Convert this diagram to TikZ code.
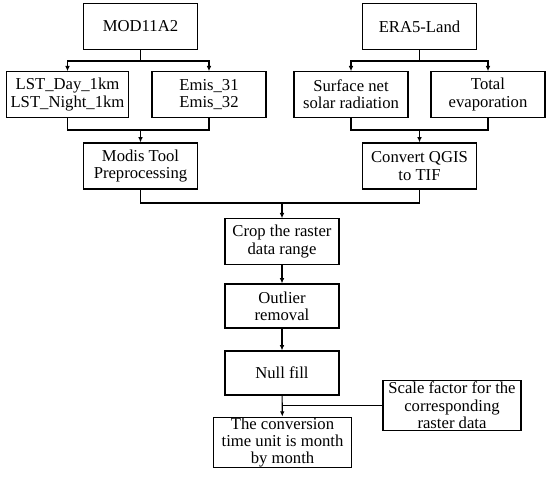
\documentclass[tikz,border=0pt]{standalone}
\usepackage{fontspec}
\setmainfont{Liberation Serif}
\usetikzlibrary{arrows.meta}

\begin{document}
\begin{tikzpicture}[x=0.75pt, y=-0.75pt]
        % Common styles
        \tikzstyle{box}=[draw, line width=0.8pt, align=center, inner sep=0pt, font=\fontsize{12.5}{13}\selectfont, minimum width=85.5pt, minimum height=34pt]
        \tikzstyle{link}=[line width=0.8pt]
        \tikzstyle{arr}=[link, -{Latex[length=4pt, width=3.5pt]}]
        \useasboundingbox (0,0) rectangle (550,476);

        % --- Left branch: MOD11A2 ---
        \node[box, minimum width=86pt] (mod) at (140.5, 26.5) {MOD11A2};
        \node[box, minimum width=92pt] (lst) at (67.5, 94.5) {LST\_Day\_1km\\LST\_Night\_1km};
        \node[box] (emis) at (209, 94.5) {Emis\_31\\Emis\_32};
        \node[box, minimum width=86pt, minimum height=34.5pt] (modis) at (140.5, 166) {Modis Tool\\Preprocessing};

        \draw[link] (mod.south) -- (140.5, 61);
        \draw[arr] (140.5, 61) -| (lst.north);
        \draw[arr] (140.5, 61) -| (emis.north);
        \draw[link] (lst.south) |- (140.5, 130) -| (emis.south);
        \draw[arr] (140.5, 130) -- (modis.north);

        % --- Right branch: ERA5-Land ---
        \node[box, minimum width=86pt] (era) at (419.5, 26.5) {ERA5-Land};
        \node[box] (surf) at (351, 94.5) {Surface net\\solar radiation};
        \node[box] (evap) at (488, 94.5) {Total\\evaporation};
        \node[box, minimum width=86pt, minimum height=34.5pt] (qgis) at (419.5, 166) {Convert QGIS\\to TIF};

        \draw[link] (era.south) -- (419.5, 61);
        \draw[arr] (419.5, 61) -| (surf.north);
        \draw[arr] (419.5, 61) -| (evap.north);
        \draw[link] (surf.south) |- (419.5, 130) -| (evap.south);
        \draw[arr] (419.5, 130) -- (qgis.north);

        % --- Common processing ---
        \node[box] (crop) at (282, 241.5) {Crop the raster\\data range};
        \node[box, minimum height=33pt] (outl) at (282, 306) {Outlier\\removal};
        \node[box, minimum height=33pt] (null) at (282, 373) {Null fill};
        \node[box, minimum width=104pt, minimum height=38pt] (conv) at (282.5, 442.5) {The conversion\\time unit is month\\by month};
        \node[box, minimum width=103.5pt, minimum height=38pt] (scale) at (452, 405.5) {Scale factor for the\\corresponding\\raster data};

        \draw[link] (modis.south) |- (282, 203) -| (qgis.south);
        \draw[arr] (282, 203) -- (crop.north);
        \draw[arr] (crop) -- (outl);
        \draw[arr] (outl) -- (null);
        \draw[arr] (null) -- (conv);
        \draw[link] (scale.west) -- (scale.west -| null.south);
\end{tikzpicture}
\end{document}
